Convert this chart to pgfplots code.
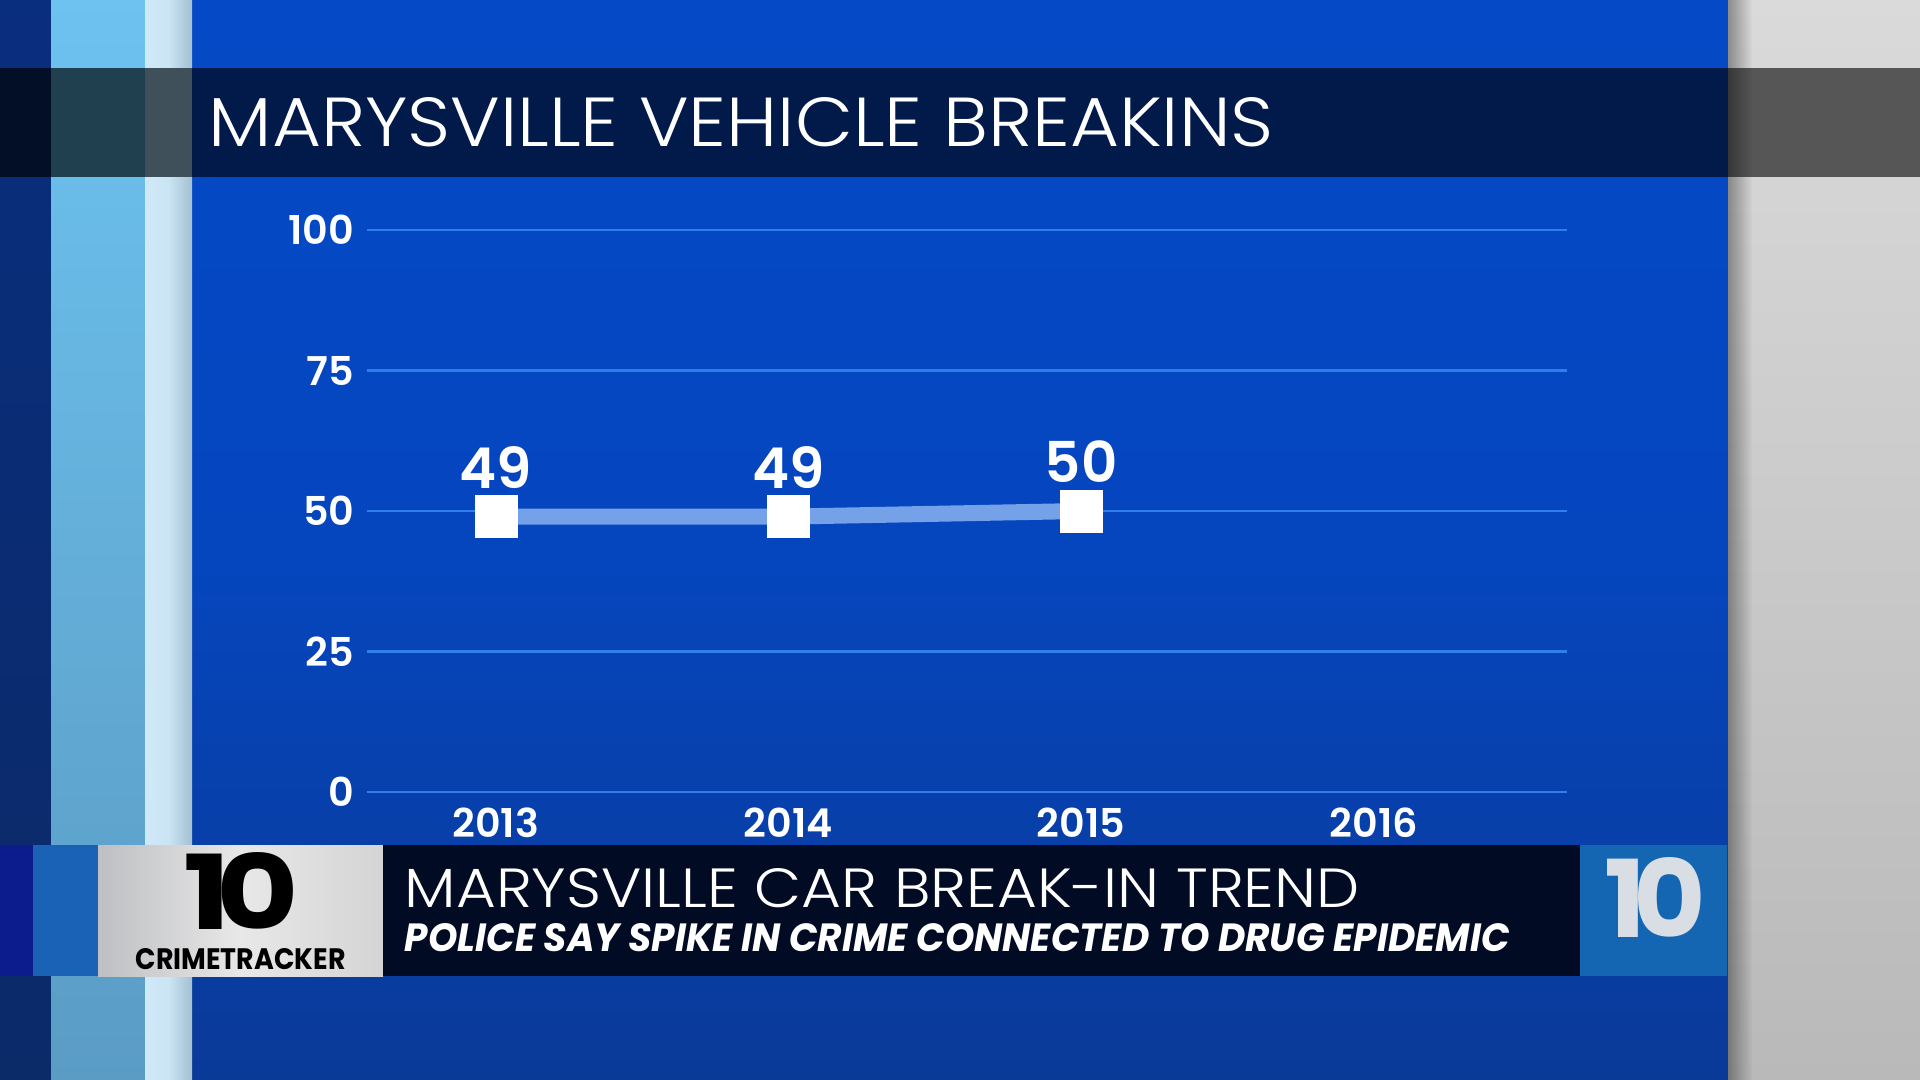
\documentclass[border=0pt]{standalone}
\usepackage{pgfplots}
\pgfplotsset{compat=1.18}
\usepackage{fontspec}
\setmainfont{Poppins}
\newfontfamily\lightfont{Poppins Light}
\newfontfamily\numfont{Poppins SemiBold}

\definecolor{paneltop}{HTML}{0549C6}
\definecolor{panelmid}{HTML}{0546BF}
\definecolor{panelbot}{HTML}{0A3A98}
\definecolor{navystrip}{HTML}{0A2E7E}
\definecolor{navystripb}{HTML}{0B2A68}
\definecolor{skytop}{HTML}{6DC2F0}
\definecolor{skybot}{HTML}{5A9CC4}
\definecolor{paleL}{HTML}{CFE9F8}
\definecolor{paleR}{HTML}{A3BFD0}
\definecolor{graytop}{HTML}{DADADA}
\definecolor{graybot}{HTML}{B9B9B9}
\definecolor{bandnavy}{HTML}{011A4A}
\definecolor{gridblue}{HTML}{2F7FEA}
\definecolor{lineblue}{HTML}{74A1E8}
\definecolor{lowdark}{HTML}{010C24}
\definecolor{lowblue}{HTML}{1566B2}

\begin{document}
\begin{tikzpicture}
% backdrop, in screen pixels (0.1 mm each, y downwards)
\begin{scope}[x=0.1mm,y=-0.1mm]
  \shade[top color=paneltop, bottom color=panelbot, middle color=panelmid] (192,0) rectangle (1728,1080);
  \shade[top color=navystrip, bottom color=navystripb] (0,0) rectangle (51,1080);
  \shade[top color=skytop, bottom color=skybot] (51,0) rectangle (145,1080);
  \shade[left color=paleL, right color=paleR, middle color=paleL!90!paleR] (145,0) rectangle (192,1080);
  \shade[top color=graytop, bottom color=graybot] (1728,0) rectangle (1920,1080);
  % title band
  \fill[fill={rgb,255:red,2;green,15;blue,39}] (0,68) rectangle (51,177);
  \fill[fill={rgb,255:red,32;green,64;blue,79}] (51,68) rectangle (145,177);
  \fill[fill={rgb,255:red,64;green,80;blue,90}] (145,68) rectangle (192,177);
  \fill[bandnavy] (192,68) rectangle (1728,177);
  \fill[fill={rgb,255:red,86;green,86;blue,86}] (1728,68) rectangle (1920,177);
  % shadow of the panel on the grey
  \foreach \i in {0,...,11} {
    \pgfmathsetmacro\op{0.35*(1-\i/12)}
    \fill[black, fill opacity=\op] ({1728+2*\i},0) rectangle ({1730+2*\i},1080);
  }
  \node[anchor=base west, inner sep=0pt, text=white] at (208,147)
    {\resizebox{106.5mm}{4.9mm}{\lightfont MARYSVILLE VEHICLE BREAKINS}};
\end{scope}

\begin{axis}[
    at={(36.7mm,-79.2mm)}, anchor=south west,
    width=120mm, height=56.2mm, scale only axis,
    xmin=2012.56, xmax=2016.66,
    ymin=0, ymax=100,
    xtick={2013,2014,2015,2016},
    xticklabels={2013,2014,2015,2016},
    ytick={0,25,50,75,100},
    yticklabels={0,25,50,75,100},
    ymajorgrids,
    grid style={gridblue, line width=0.25mm},
    axis line style={draw=none},
    major tick length=0pt,
    tick style={draw=none},
    clip=false,
    tick label style={text=white, inner sep=0pt, font=\numfont\fontsize{11.3}{12}\selectfont},
    xticklabel style={anchor=north, yshift=-1.5mm},
    yticklabel style={anchor=east, xshift=-1.2mm},
  ]
  \addplot[
      draw=lineblue, line width=1.6mm,
      mark=square*, mark size=2.1mm,
      mark options={fill=white, draw=white, line width=0.1pt},
      point meta=explicit symbolic,
      nodes near coords,
      nodes near coords style={text=white, anchor=south, inner sep=0pt, yshift=2.8mm,
        font=\numfont\fontsize{16}{16}\selectfont},
    ]
    coordinates {
      (2013,49) [49]
      (2014,49) [49]
      (2015,50) [50]
    };
\end{axis}

% lower third
\begin{scope}[x=0.1mm,y=-0.1mm]
  \fill[fill={rgb,255:red,12;green,28;blue,140}] (0,845) rectangle (33,976);
  \fill[fill={rgb,255:red,25;green,98;blue,182}] (33,845) rectangle (98,976);
  \shade[left color={rgb,255:red,190;green,191;blue,194}, right color={rgb,255:red,212;green,212;blue,212},
         middle color={rgb,255:red,232;green,232;blue,232}] (98,845) rectangle (383,976);
  \fill[lowdark] (383,845) rectangle (1580,976);
  \fill[lowblue] (1580,845) rectangle (1727,976);
  \node[anchor=base west, inner sep=0pt, text depth=0pt, text=black] at (183,929)
    {\resizebox{11.5mm}{7.7mm}{\bfseries 1\kern-0.12em0}};
  \node[anchor=base west, inner sep=0pt, text=black] at (135,969)
    {\resizebox{21mm}{2.1mm}{\bfseries CRIMETRACKER}};
  \node[anchor=base west, inner sep=0pt, text={rgb,255:red,216;green,222;blue,228}] at (1604,937)
    {\resizebox{10.1mm}{8mm}{\bfseries 1\kern-0.12em0}};
  \node[anchor=base west, inner sep=0pt, text=white] at (404,907)
    {\resizebox{95.5mm}{3.9mm}{\lightfont MARYSVILLE CAR BREAK-IN TREND}};
  \node[anchor=base west, inner sep=0pt, text=white] at (404,951)
    {\resizebox{110.5mm}{2.8mm}{\bfseries\itshape POLICE SAY SPIKE IN CRIME CONNECTED TO DRUG EPIDEMIC}};
\end{scope}
\pgfresetboundingbox
\path (0,0) rectangle (192mm,-108mm);
\end{tikzpicture}
\end{document}
